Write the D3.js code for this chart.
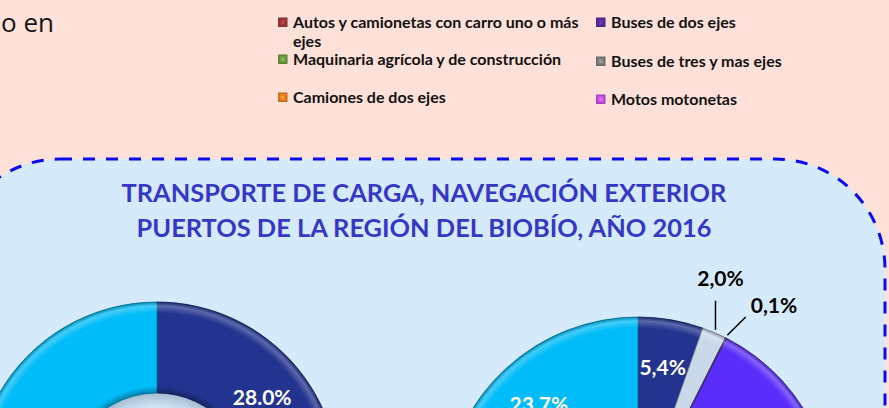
<!DOCTYPE html>
<html>
<head>
<meta charset="utf-8">
<script src="https://cdn.jsdelivr.net/npm/d3@7"></script>
<style>
  html, body { margin: 0; padding: 0; background: #FFE1D9; }
  svg { display: block; }
</style>
</head>
<body>
<svg id="chart" width="889" height="408"></svg>
<script>
// ---- legend of the upper chart (vehicle categories) ----
const legendLeftNames = ["Autos y camionetas con carro uno o más ejes", "Maquinaria agrícola y de construcción", "Camiones de dos ejes"];
const legendLeftColors = ["#9C3A3C", "#6F9B44", "#E9821F"];
const legendRightNames = ["Buses de dos ejes", "Buses de tres y mas ejes", "Motos motonetas"];
const legendRightColors = ["#5C2E9E", "#808080", "#C455E2"];

// ---- cargo doughnuts ----
const title = ["TRANSPORTE DE CARGA, NAVEGACIÓN EXTERIOR", "PUERTOS DE LA REGIÓN DEL BIOBÍO, AÑO 2016"];
const cargoTypes = ["Granel sólido", "Granel líquido", "Carga refrigerada", "Contenedores", "Carga general"];
const cargoColors = ["#22348F", "#C9D9EA", "#4A4A40", "#5A2DFA", "#00BCF8"];
const shareLeft = [28.0, 1.2, 0.3, 36.5, 34.0];
const shareRight = [5.4, 2.0, 0.1, 68.8, 23.7];

const svg = d3.select("#chart");
const W = 889, H = 408;

svg.append("rect").attr("width", W).attr("height", H).attr("fill", "#FFE1D9");

// fragment of the preceding paragraph
svg.append("text").attr("x", 1).attr("y", 32)
  .attr("font-family", "'Open Sans', sans-serif").attr("font-size", 26)
  .attr("fill", "#151515").text("o en");

// ---- legend ----
const legFont = "Lato, 'Open Sans', sans-serif";
function drawLegend(names, colors, x0, maxW, rows) {
  names.forEach((name, i) => {
    const g = svg.append("g");
    const base = rows[i];
    const c = d3.color(colors[i]);
    const s = 9.5, y0 = base - 10.5;
    // bevelled marker: darker rim, lighter facets towards the centre
    g.append("rect").attr("x", x0).attr("y", y0).attr("width", s).attr("height", s)
      .attr("fill", c.darker(0.5).formatHex());
    g.append("rect").attr("x", x0 + 1.5).attr("y", y0 + 1.5).attr("width", s - 3).attr("height", s - 3)
      .attr("fill", c.formatHex());
    g.append("rect").attr("x", x0 + 3.25).attr("y", y0 + 3.25).attr("width", 3).attr("height", 3)
      .attr("fill", c.brighter(0.6).formatHex());
    const t = g.append("text").attr("x", x0 + 15).attr("y", base)
      .attr("font-family", legFont).attr("font-weight", 700).attr("font-size", 16)
      .attr("fill", "#111");
    // simple word wrap
    const words = name.split(" ");
    let line = [];
    let tspan = t.append("tspan").attr("x", x0 + 15).attr("dy", 0);
    words.forEach(w => {
      line.push(w);
      tspan.text(line.join(" "));
      if (tspan.node().getComputedTextLength() > maxW && line.length > 1) {
        line.pop();
        tspan.text(line.join(" "));
        line = [w];
        tspan = t.append("tspan").attr("x", x0 + 15).attr("dy", 19).text(w);
      }
    });
  });
}
drawLegend(legendLeftNames, legendLeftColors, 278, 292, [28, 65, 103]);
drawLegend(legendRightNames, legendRightColors, 596, 270, [28, 67, 105]);

// ---- panel with dashed rounded border ----
svg.append("rect")
  .attr("x", -50).attr("y", 159).attr("width", 935).attr("height", 600)
  .attr("rx", 110).attr("ry", 110)
  .attr("fill", "#D5EBFC").attr("stroke", "#0A0AF5")
  .attr("stroke-width", 3).attr("stroke-dasharray", "12 11");

// title
const titleText = svg.append("text").attr("text-anchor", "middle")
  .attr("font-family", legFont).attr("font-weight", 700).attr("font-size", 25.4)
  .attr("fill", "#3737C6");
title.forEach((s, i) => {
  titleText.append("tspan").attr("x", 424).attr("y", 202 + i * 35).text(s);
});

const defs = svg.append("defs");

function drawDoughnut(id, values, cx, cy, R, fmt, callouts) {
  const r = R * 0.5;
  const pie = d3.pie().sort(null).value(d => d);
  const arcs = pie(values);
  const arc = d3.arc().innerRadius(r).outerRadius(R);
  const g = svg.append("g").attr("transform", `translate(${cx},${cy})`);

  // soft bevel across the ring
  const bevel = defs.append("radialGradient").attr("id", "bevel-" + id)
    .attr("gradientUnits", "userSpaceOnUse").attr("cx", 0).attr("cy", 0).attr("r", R);
  [[r / R, "#000", 0.30], [(r + 7) / R, "#000", 0], [(R - 11) / R, "#fff", 0],
   [(R - 4) / R, "#fff", 0.26], [1, "#000", 0.28]].forEach(([o, c, a]) =>
    bevel.append("stop").attr("offset", o).attr("stop-color", c).attr("stop-opacity", a));

  // shadow cast inside the hole
  const hole = defs.append("radialGradient").attr("id", "hole-" + id)
    .attr("gradientUnits", "userSpaceOnUse").attr("cx", 0).attr("cy", 0).attr("r", r);
  [[(r - 16) / r, 0], [1, 0.30]].forEach(([o, a]) =>
    hole.append("stop").attr("offset", o).attr("stop-color", "#3A4A66").attr("stop-opacity", a));
  g.append("circle").attr("r", r).attr("fill", `url(#hole-${id})`);

  g.selectAll("path.slice").data(arcs).join("path").attr("class", "slice")
    .attr("d", arc)
    .attr("fill", (d, i) => cargoColors[i])
    .attr("stroke", (d, i) => d3.color(cargoColors[i]).darker(1.2).formatHex())
    .attr("stroke-width", 0.8);

  g.append("path")
    .attr("d", d3.arc().innerRadius(r).outerRadius(R)({ startAngle: 0, endAngle: 2 * Math.PI }))
    .attr("fill", `url(#bevel-${id})`).attr("pointer-events", "none");

  const labelSize = 21;
  arcs.forEach((d, i) => {
    const mid = (d.startAngle + d.endAngle) / 2;
    const co = callouts[i];
    if (co) {
      const sx = (R + 3) * Math.sin(mid), sy = -(R + 3) * Math.cos(mid);
      const ex = sx + co.len * Math.sin(co.dir), ey = sy - co.len * Math.cos(co.dir);
      g.append("line").attr("x1", sx).attr("y1", sy).attr("x2", ex).attr("y2", ey)
        .attr("stroke", "#000").attr("stroke-width", 1.5);
      g.append("text").attr("x", ex + co.tx).attr("y", ey + co.ty)
        .attr("text-anchor", co.anchor)
        .attr("font-family", legFont).attr("font-weight", 700)
        .attr("font-size", labelSize).attr("fill", "#000")
        .text(fmt(d.data));
    } else {
      const [x, y] = arc.centroid(d);
      g.append("text").attr("x", x).attr("y", y).attr("dy", "0.36em")
        .attr("text-anchor", "middle")
        .attr("font-family", legFont).attr("font-weight", 700)
        .attr("font-size", labelSize).attr("fill", "#fff")
        .text(fmt(d.data));
    }
  });
}

const fmtDot = v => v.toFixed(1) + "%";
const fmtComma = v => v.toFixed(1).replace(".", ",") + "%";

const leftCallouts = [null,
  { dir: Math.PI * 0.55, len: 30, tx: 4, ty: 6, anchor: "start" },
  { dir: Math.PI * 0.85, len: 45, tx: 4, ty: 16, anchor: "start" }, null, null];
const rightCallouts = [null,
  { dir: 0, len: 29, tx: 5, ty: -15, anchor: "middle" },
  { dir: Math.PI / 4, len: 26, tx: 5, ty: -4, anchor: "start" }, null, null];

drawDoughnut("left", shareLeft, 157, 484, 182, fmtDot, leftCallouts);
drawDoughnut("right", shareRight, 638, 512, 195, fmtComma, rightCallouts);
</script>
</body>
</html>
